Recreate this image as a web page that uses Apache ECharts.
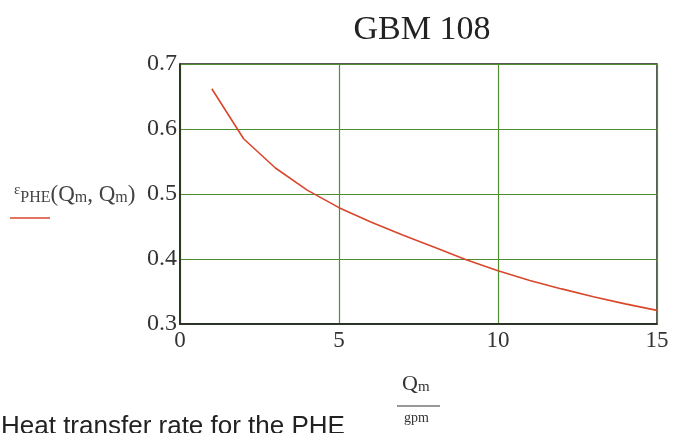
<!DOCTYPE html>
<html lang="en">
<head>
    <meta charset="UTF-8">
    <title>GBM 108</title>
    <script type="text/javascript" src="https://cdn.jsdelivr.net/npm/echarts@6/dist/echarts.min.js"></script>
    <style>
        html, body { margin: 0; padding: 0; background: #fff; }
        #chart { width: 675px; height: 433px; }
    </style>
</head>
<body>
    <div id="chart"></div>
</body>
<script type="text/javascript">

    // flow rate Qm (gpm) and effectiveness values
    var flowRates = [1, 2, 3, 4, 5, 6, 7, 8, 9, 10, 11, 12, 13, 14, 15];
    var effectiveness = [0.662, 0.585, 0.540, 0.506, 0.479, 0.457, 0.437, 0.418, 0.399, 0.382, 0.367, 0.354, 0.342, 0.331, 0.321];
    var xTicks = [0, 5, 10, 15];
    var yTicks = [0.3, 0.4, 0.5, 0.6, 0.7];

    var serif = '"Liberation Serif", "DejaVu Serif", serif';
    var gridGreen = '#4f8f2f';

    var data = [];
    for (var i = 0; i < flowRates.length; i++) {
        data.push([flowRates[i], effectiveness[i]]);
    }

    var myChart = echarts.init(document.getElementById('chart'));

    var options = {
        animation: false,
        backgroundColor: '#fff',
        title: {
            text: 'GBM 108',
            left: 417,
            top: 8,
            textAlign: 'center',
            textStyle: { fontFamily: serif, fontSize: 34, fontWeight: 'normal', color: '#222' }
        },
        grid: {
            left: 180,
            right: 18,
            top: 64,
            bottom: 109,
            show: true,
            borderColor: '#222',
            borderWidth: 1.5
        },
        xAxis: {
            type: 'value',
            min: xTicks[0],
            max: xTicks[xTicks.length - 1],
            interval: 5,
            axisLine: { show: true, lineStyle: { color: '#222', width: 1.5 } },
            axisTick: { show: false },
            axisLabel: {
                fontFamily: serif, fontSize: 23, color: '#333', margin: 5,
                formatter: function (v) { return xTicks.indexOf(v) >= 0 ? String(v) : ''; }
            },
            splitLine: { show: true, lineStyle: { color: gridGreen, width: 1.2 } }
        },
        yAxis: {
            type: 'value',
            min: yTicks[0],
            max: yTicks[yTicks.length - 1],
            interval: 0.1,
            axisLine: { show: true, lineStyle: { color: '#222', width: 1.5 } },
            axisTick: { show: false },
            axisLabel: {
                fontFamily: serif, fontSize: 24, color: '#333', margin: 3,
                formatter: function (v) { return v.toFixed(1); }
            },
            splitLine: { show: true, lineStyle: { color: gridGreen, width: 1.2 } }
        },
        series: [{
            type: 'line',
            data: data,
            showSymbol: false,
            smooth: false,
            lineStyle: { color: '#d9472b', width: 1.6 },
            z: 5
        }],
        graphic: [
            {
                type: 'text',
                left: 14,
                top: 183,
                style: {
                    text: '{e|ε}{s|PHE}{p|(Q}{s|m}{p|, Q}{s|m}{p|)}',
                    fill: '#444',
                    rich: {
                        e: { fontFamily: serif, fontSize: 15, verticalAlign: 'top', fill: '#444' },
                        s: { fontFamily: serif, fontSize: 16, verticalAlign: 'bottom', fill: '#444' },
                        p: { fontFamily: serif, fontSize: 23, fill: '#444' }
                    }
                }
            },
            {
                type: 'line',
                shape: { x1: 10, y1: 218, x2: 50, y2: 218 },
                style: { stroke: '#d9472b', lineWidth: 1.6 }
            },
            {
                type: 'text',
                left: 402,
                top: 373,
                style: {
                    text: '{p|Q}{s|m}',
                    rich: {
                        p: { fontFamily: serif, fontSize: 22, fill: '#333' },
                        s: { fontFamily: serif, fontSize: 15, verticalAlign: 'bottom', fill: '#333' }
                    }
                }
            },
            {
                type: 'line',
                shape: { x1: 397, y1: 406, x2: 440, y2: 406 },
                style: { stroke: '#333', lineWidth: 1.2 }
            },
            {
                type: 'text',
                left: 404,
                top: 411,
                style: { text: 'gpm', fontFamily: serif, fontSize: 14, fill: '#333' }
            },
            {
                type: 'text',
                left: 1,
                top: 414,
                style: { text: 'Heat transfer rate for the PHE', fontFamily: '"Liberation Sans", Arial, sans-serif', fontSize: 26, fill: '#222' }
            }
        ]
    };
    myChart.setOption(options);

</script>
</html>
